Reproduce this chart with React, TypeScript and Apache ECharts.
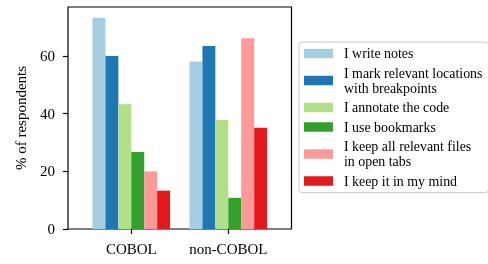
import React, { useEffect, useRef } from "react";
import * as echarts from "echarts";

const categories = ["COBOL", "non-COBOL"];
const seriesNames = [
  "I write notes",
  "I mark relevant locations\nwith breakpoints",
  "I annotate the code",
  "I use bookmarks",
  "I keep all relevant files\nin open tabs",
  "I keep it in my mind",
];
const writeNotes = [73.3, 58.1];
const markBreakpoints = [60.0, 63.5];
const annotateCode = [43.3, 37.8];
const useBookmarks = [26.7, 10.8];
const openTabs = [20.0, 66.2];
const keepInMind = [13.3, 35.1];
const yTicks = [0, 20, 40, 60];
const colors = ["#a6cee3", "#1f78b4", "#b2df8a", "#33a02c", "#fb9a99", "#e31a1c"];

const FONT = "Liberation Serif";

export default function App() {
  const ref = useRef<HTMLDivElement>(null);
  useEffect(() => {
    if (!ref.current) return;
    const chart = echarts.init(ref.current, undefined, { renderer: "svg" });
    const values = [writeNotes, markBreakpoints, annotateCode, useBookmarks, openTabs, keepInMind];
    const yMax = 77.0;
    chart.setOption({
      animation: false,
      textStyle: { fontFamily: FONT },
      grid: [
        { left: 68, top: 7, width: 223.5, height: 222, show: true, borderColor: "#000", borderWidth: 1.2, backgroundColor: "transparent" },
        { left: 82.8, top: 7, width: 194, height: 222 },
      ],
      xAxis: [
        { type: "value", gridIndex: 0, show: false, min: 0, max: 1 },
        {
          type: "category",
          gridIndex: 1,
          data: categories,
          axisLine: { show: false },
          axisTick: { show: true, interval: 0, alignWithLabel: true, length: 5, lineStyle: { color: "#000", width: 1.2 } },
          axisLabel: { interval: 0, margin: 12, fontSize: 15, color: "#000", fontFamily: FONT, hideOverlap: false },
          splitLine: { show: false },
        },
      ],
      yAxis: [
        {
          type: "value",
          gridIndex: 0,
          min: 0,
          max: yMax,
          interval: 20,
          axisLine: { show: false },
          axisTick: { show: true, length: 5, customValues: yTicks, lineStyle: { color: "#000", width: 1.2 } },
          axisLabel: { customValues: yTicks, margin: 13, fontSize: 15, color: "#000", fontFamily: FONT },
          splitLine: { show: false },
          name: "% of respondents",
          nameLocation: "middle",
          nameGap: 40,
          nameRotate: 90,
          nameTextStyle: { fontSize: 15, color: "#000", fontFamily: FONT },
        },
        { type: "value", gridIndex: 1, min: 0, max: yMax, show: false },
      ],
      legend: {
        orient: "vertical",
        left: 299,
        top: 42,
        icon: "rect",
        itemWidth: 29,
        itemHeight: 9.5,
        itemGap: 4.5,
        padding: [4, 6, 4, 5],
        backgroundColor: "#fff",
        borderColor: "#cccccc",
        borderWidth: 1,
        borderRadius: 3,
        data: seriesNames,
        textStyle: { fontSize: 13.9, lineHeight: 15, color: "#000", fontFamily: FONT, padding: [0, 0, 0, 6] },
      },
      series: seriesNames.map((name, i) => ({
        type: "bar",
        name,
        xAxisIndex: 1,
        yAxisIndex: 1,
        data: values[i],
        barGap: "0%",
        barCategoryGap: "20%",
        itemStyle: { color: colors[i] },
      })),
    });
    return () => chart.dispose();
  }, []);
  return <div ref={ref} style={{ position: "fixed", left: 0, top: 0, width: 488, height: 264 }} />;
}
